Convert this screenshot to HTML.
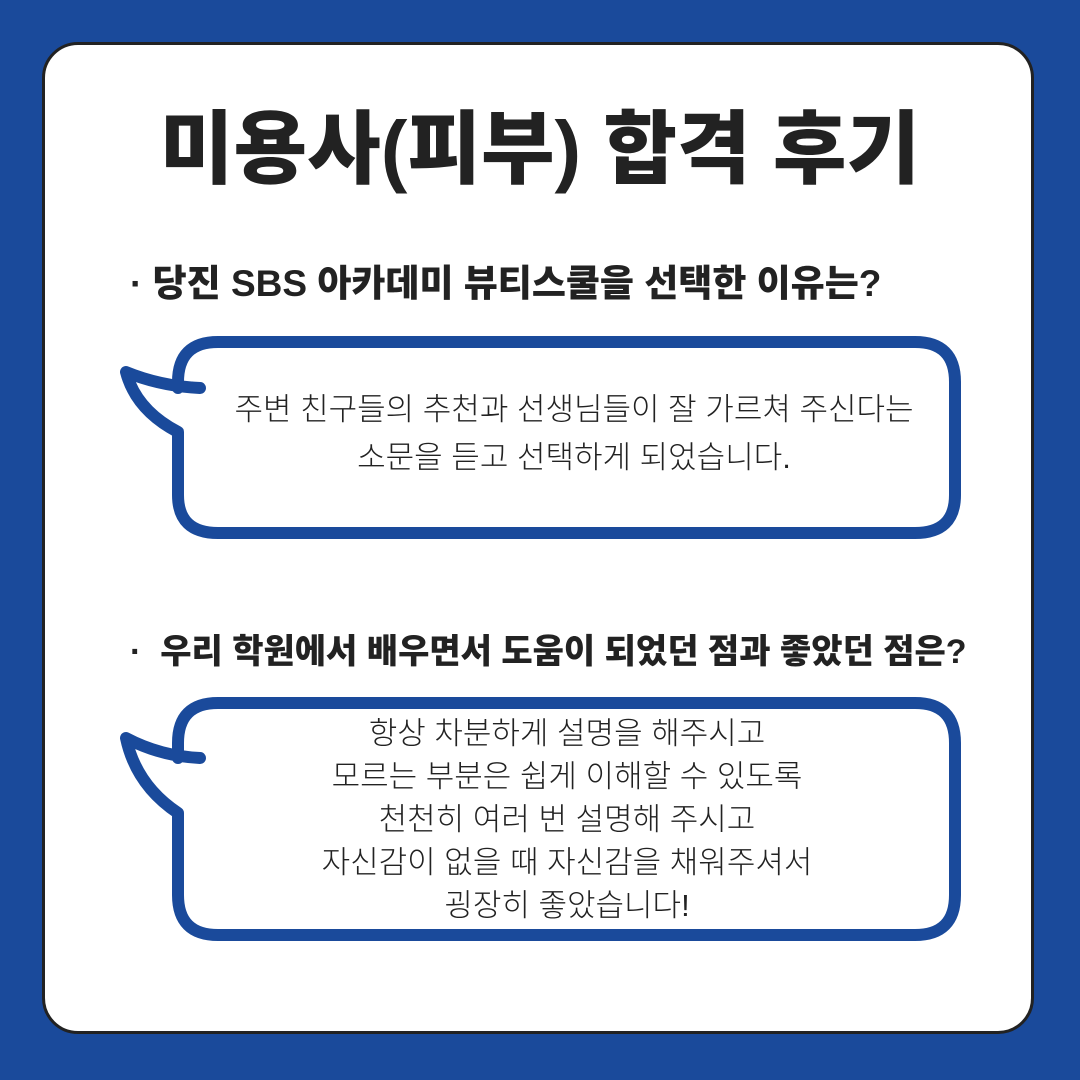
<!DOCTYPE html>
<html><head><meta charset="utf-8"><style>
body{margin:0;width:1080px;height:1080px;background:#1a4a9b;position:relative;overflow:hidden;font-family:"Liberation Sans","Noto Sans CJK KR","NanumGothic",sans-serif;color:#222}
.frame{position:absolute;left:42px;top:42px;width:992px;height:992px;background:#fff;border:3px solid #222;border-radius:36px;box-sizing:border-box}
.t{position:absolute;left:0;width:1080px;text-align:center;white-space:nowrap}
.h{position:absolute;white-space:nowrap;font-weight:900}
.b{font-size:31px;font-weight:300}
</style></head><body>
<div class="frame"></div>
<svg style="position:absolute;left:0;top:0" width="1080" height="1080">
<g fill="none" stroke="#1a4a9b" stroke-width="12" stroke-linecap="round" stroke-linejoin="round">
<path d="M200,388 Q160,386 126,372 Q136,410 178,432 L178,495 Q178,533 218,533 L915,533 Q955,533 955,495 L955,382 Q955,342 915,342 L218,342 Q178,342 178,382 L178,388"/>
<path d="M200,758 Q160,756 126,738 Q136,785 178,813 L178,895 Q178,935 218,935 L915,935 Q955,935 955,895 L955,743 Q955,703 915,703 L218,703 Q178,703 178,743 L178,758"/>
</g></svg>
<div class="t" style="top:100px;font-size:80px;font-weight:900;line-height:100px">미용사(피부) 합격 후기</div>
<div class="h" style="left:130px;top:262px;font-size:37px;line-height:44px">· 당진 SBS 아카데미 뷰티스쿨을 선택한 이유는?</div>
<div class="h" style="left:130px;top:630px;font-size:34px;line-height:44px">·&nbsp; 우리 학원에서 배우면서 도움이 되었던 점과 좋았던 점은?</div>
<div class="t b" style="top:386px;left:34px;line-height:48px">주변 친구들의 추천과 선생님들이 잘 가르쳐 주신다는<br>소문을 듣고 선택하게 되었습니다.</div>
<div class="t b" style="top:712px;left:27px;line-height:43px">항상 차분하게 설명을 해주시고<br>모르는 부분은 쉽게 이해할 수 있도록<br>천천히 여러 번 설명해 주시고<br>자신감이 없을 때 자신감을 채워주셔서<br>굉장히 좋았습니다!</div>
</body></html>
